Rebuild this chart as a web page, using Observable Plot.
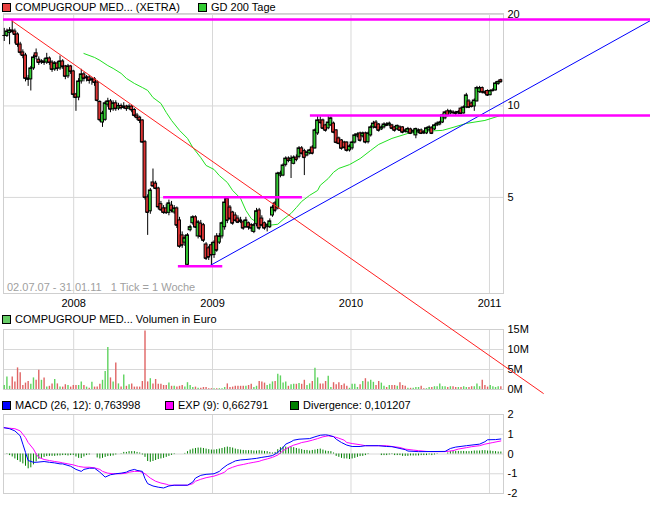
<!DOCTYPE html>
<html><head><meta charset="utf-8">
<script src="https://cdn.jsdelivr.net/npm/d3@7"></script>
<script src="https://cdn.jsdelivr.net/npm/@observablehq/plot@0.6"></script>
<style>
body{margin:0;background:#fff;}
#chart{position:relative;width:650px;height:505px;overflow:hidden;font-family:"Liberation Sans",Arial,sans-serif;font-size:11px;color:#000;background:#fff}
.pane{position:absolute;left:0}
.leg{position:absolute;white-space:nowrap;font-size:11px;line-height:12px}
.sw{display:inline-block;width:7px;height:7px;border:1px solid #000;margin-right:4px;vertical-align:-1px}
.cap{position:absolute;left:7px;top:281px;color:#a0a0a0;font-size:11px;white-space:pre}
</style></head>
<body><div id="chart"></div>
<script>
// ---- data: weekly candles starting 02.07.07 (1 Tick = 1 Woche) ----
const startWeek = "2007-07-02";
const opens = [
17.06,17.0,17.4,17.72,17.58,17.19,15.93,15.00,14.66,12.32,
12.23,13.29,14.90,14.20,13.90,14.01,13.90,14.33,13.90,13.19,
13.80,13.29,14.01,13.49,12.51,13.49,12.99,10.91,10.66,12.04,
12.70,12.32,12.41,12.13,12.23,11.95,10.30,8.82,9.00,10.10,
10.35,9.75,10.20,9.80,10.00,9.85,9.95,9.80,9.95,9.70,
9.30,9.15,8.96,7.60,5.00,4.50,5.60,5.55,5.35,4.75,
4.60,4.60,4.45,4.70,4.46,4.60,4.20,3.75,3.55,3.00,
3.90,4.11,4.30,3.72,4.10,4.05,3.50,3.40,3.48,3.23,
3.72,3.55,3.72,3.99,4.95,4.63,4.46,4.36,4.26,4.20,
4.14,3.99,4.11,4.05,3.85,4.08,4.53,4.26,4.11,3.99,
3.99,4.36,4.78,4.60,5.90,5.90,6.40,6.71,6.60,6.45,
6.76,6.80,7.25,7.10,6.87,6.98,7.30,7.25,8.12,8.96,
8.96,8.63,8.44,8.63,8.75,8.31,7.82,7.70,7.58,7.58,
7.14,7.25,7.58,7.94,8.12,7.94,8.12,7.60,8.00,8.50,
8.82,8.69,8.37,8.50,8.69,8.63,8.63,8.50,8.37,8.50,
8.50,8.31,8.19,8.37,8.19,8.00,8.19,8.31,8.19,8.12,
8.31,8.44,8.37,8.63,8.69,8.82,9.10,9.60,9.45,9.52,
9.50,9.45,9.80,9.45,9.89,10.35,10.19,9.96,10.35,11.10,
11.45,11.10,11.20,10.85,11.20,11.25,11.80,12.15];
const highs = [
18.0,17.9,18.1,19.1,17.9,17.4,16.2,15.3,14.9,12.6,
13.5,14.7,15.4,14.5,14.2,14.3,14.9,14.5,14.1,14.0,
14.0,14.6,14.2,13.6,13.7,13.6,13.1,11.0,12.3,13.2,
12.9,12.6,12.6,12.4,12.4,12.1,10.4,9.6,10.35,10.6,
10.5,10.4,10.4,10.2,10.15,10.25,10.05,10.1,10.05,9.8,
9.45,9.25,9.0,7.7,5.1,5.35,6.2,5.65,5.4,4.85,
4.7,4.75,4.9,4.85,4.7,4.65,4.3,3.85,3.75,3.8,
4.05,4.35,4.35,4.2,4.2,4.1,3.55,3.45,3.55,3.6,
3.8,3.8,4.15,5.0,5.0,4.7,4.5,4.45,4.35,4.3,
4.2,4.3,4.15,4.1,4.1,4.6,4.6,4.35,4.15,4.1,
4.25,4.7,4.85,6.05,6.1,6.45,6.8,6.8,6.85,6.85,
6.9,7.35,7.35,7.2,7.1,7.2,7.4,8.4,9.3,9.2,
9.05,8.7,9.3,9.2,8.85,8.35,7.9,7.75,7.65,7.62,
7.45,7.65,8.1,8.15,8.2,8.2,8.2,8.2,8.6,8.9,
8.95,8.75,8.6,8.8,8.8,8.85,8.7,8.55,8.65,8.6,
8.55,8.4,8.5,8.45,8.35,8.45,8.4,8.4,8.3,8.5,
8.6,8.55,8.7,8.85,8.9,9.4,9.6,9.75,9.7,9.65,
9.6,9.65,9.9,10.0,11.0,10.5,10.3,10.55,11.6,11.6,
11.55,11.2,11.3,11.3,11.4,12.0,12.1,12.25];
const lows = [
16.3,16.8,15.9,17.3,16.0,15.6,14.7,14.3,12.0,11.6,
11.2,13.1,14.2,13.6,13.7,13.6,13.7,13.6,12.9,13.0,
13.0,13.1,13.2,12.2,12.3,12.7,10.6,9.6,10.4,11.8,
12.0,12.0,11.8,11.7,11.6,10.3,8.85,8.5,8.9,9.9,
9.5,9.6,9.6,9.65,9.7,9.75,9.6,9.7,9.5,9.15,
8.95,8.75,7.55,4.9,3.75,4.4,5.4,5.3,4.55,4.5,
4.4,4.4,4.35,4.45,4.4,3.95,3.4,3.4,3.45,2.97,
3.85,4.05,3.95,3.65,3.65,3.55,3.1,3.1,2.98,3.15,
3.3,3.5,3.65,3.9,4.1,4.2,4.05,4.15,4.1,4.1,
3.9,3.95,3.9,3.85,3.8,4.0,3.9,4.0,3.9,3.85,
3.95,4.3,4.45,4.55,5.8,5.85,6.3,6.5,5.77,6.4,
6.55,6.7,6.9,5.9,6.8,6.9,6.9,7.2,8.0,8.7,
8.35,8.2,8.35,8.55,8.1,7.5,7.45,7.15,7.2,7.05,
7.05,7.15,7.5,7.85,7.6,7.85,7.5,7.5,7.9,8.4,
8.4,8.2,8.3,8.4,8.55,8.55,8.35,8.2,8.3,8.25,
8.1,8.15,8.1,8.05,8.1,7.8,8.1,8.05,8.05,8.05,
8.25,8.05,8.3,8.55,8.6,8.75,9.0,9.2,9.35,9.35,
9.3,9.35,9.35,9.4,9.8,9.8,9.85,9.6,10.3,11.0,
10.95,10.9,10.75,10.8,11.1,11.2,11.7,11.9];
const closes = [
17.06,17.58,17.72,17.58,17.19,15.93,15.00,14.66,12.32,12.23,
13.29,14.44,14.55,13.90,14.01,13.90,14.33,13.90,13.19,13.80,
13.29,14.01,13.49,12.51,13.49,12.99,10.91,10.66,12.04,12.70,
12.32,12.41,12.13,12.23,11.95,10.42,9.00,9.45,10.20,10.35,
9.75,10.20,9.80,10.00,9.85,9.95,9.80,9.95,9.70,9.30,
9.15,8.96,7.60,5.00,4.46,5.27,5.45,5.35,4.65,4.55,
4.46,4.45,4.78,4.53,4.60,4.05,3.45,3.48,3.67,3.75,
3.99,4.30,3.99,4.14,3.72,3.61,3.15,3.18,3.23,3.55,
3.35,3.72,4.11,4.81,4.20,4.26,4.11,4.20,4.14,4.17,
3.96,4.20,3.99,3.96,4.05,4.50,3.96,4.05,3.96,4.05,
4.17,4.63,4.53,5.99,6.00,6.37,6.71,6.61,6.71,6.76,
6.66,7.25,6.98,6.76,7.03,7.14,6.98,8.31,8.96,8.82,
8.44,8.31,8.82,9.10,8.19,7.58,7.52,7.25,7.30,7.14,
7.36,7.58,8.00,8.06,7.70,8.12,7.60,8.12,8.50,8.75,
8.50,8.31,8.50,8.69,8.63,8.75,8.44,8.31,8.60,8.31,
8.19,8.25,8.40,8.12,8.28,8.40,8.31,8.12,8.15,8.44,
8.50,8.12,8.63,8.75,8.82,9.31,9.52,9.31,9.60,9.50,
9.45,9.55,9.45,9.89,10.83,9.90,9.96,10.42,11.45,11.45,
11.10,11.05,10.85,11.20,11.25,11.86,12.00,12.00];
// volume in million euro per week
const volumes = [
1.0,3.1,0.8,3.1,1.9,5.4,4.2,1.0,1.6,2.0,
1.3,2.9,2.3,4.8,2.3,2.9,0.6,0.8,1.4,2.5,
1.4,0.6,0.6,1.2,1.0,0.6,1.0,1.0,1.0,1.9,
1.0,0.6,0.3,1.8,0.6,0.6,1.3,2.3,4.5,10.5,
2.9,1.9,6.6,1.4,0.6,3.6,0.8,1.2,1.4,0.6,
0.6,0.6,2.0,14.6,1.9,2.7,1.4,2.5,1.3,1.3,
1.0,1.0,1.6,0.8,0.8,0.6,0.8,1.0,0.6,1.7,
1.0,0.5,0.6,0.3,0.3,0.5,0.5,0.2,0.2,0.2,
0.2,0.2,0.2,0.5,1.4,0.5,0.6,0.8,0.8,0.8,
0.8,0.8,1.0,1.3,0.5,0.8,2.0,1.9,1.6,1.0,
1.3,1.9,2.0,3.8,3.4,1.6,1.9,0.8,1.2,1.3,
1.3,1.5,1.3,2.3,1.0,1.4,2.0,5.3,2.9,1.4,
1.4,2.0,3.3,0.5,1.7,1.2,1.7,1.0,1.4,0.8,
0.3,1.3,1.3,0.5,1.2,2.0,2.7,1.9,2.3,1.8,
1.0,2.0,1.6,0.8,0.5,1.0,1.0,1.0,0.8,1.7,
1.0,0.8,0.3,0.3,0.3,0.5,0.5,0.8,0.2,0.2,
0.5,0.5,0.7,0.7,1.4,0.7,0.7,0.5,0.7,0.7,
0.5,0.5,0.5,0.7,0.5,0.5,0.7,0.7,1.4,0.7,
2.3,1.0,0.6,1.0,0.7,0.5,0.7,0.7];
// GD 200 Tage (week index, value)
const gdWeeks = [30,34,36,39,41,44,46,49,52,54,56,59,61,63,66,69,71,74,76,79,81,84,86,89,91,93,95,97,100,103,105,108,110,112,115,118,119,122,124,126,130,134,138,141,146,152,158,165,169,174,181,187];
const gdValues = [14.88,14.44,14.13,13.58,13.29,12.8,12.32,11.86,11.5,11.25,10.66,10.19,9.52,8.96,8.31,7.82,7.3,6.76,6.37,6.18,5.9,5.6,5.27,4.96,4.53,4.26,4.14,4.11,4.05,4.08,4.23,4.43,4.63,4.85,5.08,5.27,5.48,5.77,6.05,6.23,6.41,6.71,7.14,7.47,7.82,8.12,8.25,8.31,8.50,8.76,8.96,9.31];
// MACD (26,12)
const macdWeeks = [0,2,4,6,7,8,9,11,12,15,17,19,21,22,24,25,27,29,30,32,34,36,38,40,42,44,46,47,49,50,52,53,54,56,58,60,62,64,69,71,72,74,76,79,81,82,84,86,87,89,91,93,95,97,99,101,103,105,106,108,109,111,115,117,119,121,122,124,125,127,129,131,134,136,141,144,146,149,151,152,156,166,168,170,174,179,181,182,185,187];
const macdValues = [1.33,1.28,1.17,0.92,0.5,0.08,-0.33,-0.42,-0.42,-0.38,-0.42,-0.45,-0.5,-0.5,-0.58,-0.62,-0.78,-0.88,-0.78,-0.72,-0.72,-0.92,-1.17,-1.05,-1.0,-0.97,-0.92,-0.85,-0.78,-0.83,-0.88,-1.25,-1.5,-1.62,-1.68,-1.72,-1.62,-1.58,-1.58,-1.42,-1.22,-1.08,-1.03,-1.0,-0.88,-0.75,-0.55,-0.42,-0.35,-0.3,-0.28,-0.25,-0.22,-0.17,-0.13,-0.08,0.08,0.33,0.5,0.62,0.7,0.75,0.78,0.87,0.95,0.97,0.95,0.88,0.75,0.58,0.45,0.38,0.38,0.42,0.42,0.38,0.37,0.28,0.22,0.15,0.12,0.13,0.28,0.35,0.42,0.5,0.62,0.72,0.73,0.76];
// EXP (9)
const expWeeks = [0,4,6,7,8,9,11,12,13,15,17,19,21,22,24,26,28,30,32,34,36,37,39,41,44,46,47,49,51,53,55,57,59,61,62,69,71,72,74,76,79,81,83,84,86,88,90,92,94,96,97,99,101,103,105,107,109,111,112,114,116,118,120,122,124,126,128,129,131,134,136,144,146,149,151,154,156,159,161,166,169,171,174,176,179,181,184,187];
const expValues = [1.33,1.28,1.17,1.0,0.83,0.58,0.25,0.0,-0.17,-0.28,-0.33,-0.38,-0.42,-0.45,-0.5,-0.55,-0.63,-0.67,-0.67,-0.7,-0.78,-0.88,-0.97,-1.0,-1.0,-0.97,-0.92,-0.88,-0.88,-1.0,-1.22,-1.38,-1.47,-1.53,-1.58,-1.58,-1.5,-1.38,-1.28,-1.2,-1.12,-1.03,-0.92,-0.78,-0.67,-0.58,-0.53,-0.47,-0.42,-0.37,-0.32,-0.25,-0.17,-0.05,0.17,0.33,0.45,0.53,0.58,0.63,0.7,0.78,0.87,0.92,0.88,0.8,0.7,0.58,0.53,0.47,0.42,0.42,0.38,0.33,0.25,0.2,0.17,0.13,0.12,0.12,0.17,0.25,0.32,0.37,0.42,0.5,0.58,0.66];
// Divergence per week
const divergence = [
0,-0.02,-0.08,-0.15,-0.25,-0.33,-0.42,-0.5,-0.62,-0.75,
-0.7,-0.55,-0.4,-0.27,-0.22,-0.17,-0.13,-0.12,-0.12,-0.12,
-0.1,-0.1,-0.08,-0.08,-0.1,-0.08,-0.07,-0.15,-0.22,-0.23,
-0.15,-0.08,-0.05,0,0,-0.2,-0.25,-0.22,-0.17,-0.13,
-0.12,-0.1,-0.05,0,0.02,0.08,0.08,0.12,0.12,0.12,
0.08,0.05,-0.05,-0.17,-0.38,-0.42,-0.38,-0.33,-0.28,-0.25,
-0.22,-0.17,-0.12,-0.07,-0.03,0,0,0,0.03,0.12,
0.2,0.25,0.28,0.3,0.3,0.28,0.25,0.22,0.2,0.2,
0.22,0.25,0.28,0.32,0.35,0.33,0.3,0.25,0.22,0.2,
0.18,0.17,0.17,0.17,0.15,0.15,0.17,0.15,0.13,0.12,
0.08,0.05,0.08,0.22,0.32,0.35,0.35,0.32,0.35,0.32,
0.28,0.25,0.22,0.18,0.18,0.15,0.18,0.2,0.23,0.25,
0.2,0.15,0.13,0.12,0.05,-0.12,-0.17,-0.22,-0.25,-0.25,
-0.28,-0.25,-0.22,-0.17,-0.13,-0.12,-0.08,-0.03,0,0,
0,0,-0.08,-0.08,-0.08,-0.05,-0.03,-0.08,-0.08,-0.08,
-0.12,-0.12,-0.12,-0.1,-0.1,-0.1,-0.1,-0.08,-0.08,-0.08,
-0.05,-0.08,-0.05,-0.02,0,0,0,0.05,0.12,0.13,
0.13,0.13,0.13,0.13,0.12,0.12,0.13,0.15,0.15,0.15,
0.17,0.17,0.15,0.15,0.13,0.12,0.1,0.1];
// trend lines and horizontal levels (date, value)
const redTrend = [["2007-07-21", 19.1], ["2011-05-23", 1.132]];
const blueTrend = [["2008-12-27", 2.99], ["2012-03-01", 19.12]];
const levelFrom = ["2007-06-30", "2009-09-16", "2008-08-25", "2008-10-03"];
const levelTo   = ["2012-03-01", "2012-03-01", "2009-08-26", "2009-01-28"];
const levelValue = [19.26, 9.31, 5.01, 2.97];
const yearTicks = ["2008-01-01", "2009-01-01", "2010-01-01", "2011-01-01"];
const priceTicks = [5, 10, 20];
const volumeTicks = [0, 5, 10, 15];
const macdTicks = [-2, -1, 0, 1, 2];

// ---- build ----
const D = s => new Date(s + "T00:00:00Z");
const WEEK = 7 * 864e5;
const t0 = +D(startWeek);
const wk = i => new Date(t0 + i * WEEK);
const candles = closes.map((c, i) => ({date: wk(i), open: opens[i], high: highs[i], low: lows[i], close: c, vol: volumes[i], div: divergence[i]}));
const gd = gdWeeks.map((w, i) => ({date: wk(w), v: gdValues[i]}));
const macd = macdWeeks.map((w, i) => ({date: wk(w), v: macdValues[i]}));
const expv = expWeeks.map((w, i) => ({date: wk(w), v: expValues[i]}));
const levels = levelValue.map((v, i) => ({x1: D(levelFrom[i]), x2: D(levelTo[i]), v}));
const red = redTrend.map(([d, v]) => ({date: D(d), v}));
const blue = blueTrend.map(([d, v]) => ({date: D(d), v}));
const years = yearTicks.map(D);
const xDomain = [D("2007-06-30"), D("2011-02-07")];
const half = 0.55 * WEEK;
const up = d => d.close >= d.open;
const GRID = "#d8d8d8";
const baseStyle = {overflow: "visible", background: "transparent", fontFamily: "'Liberation Sans', Arial, sans-serif", fontSize: "11px", color: "#000"};

const price = Plot.plot({
  width: 650, height: 312, marginLeft: 3, marginRight: 147, marginTop: 13, marginBottom: 19,
  style: baseStyle,
  x: {type: "utc", domain: xDomain, ticks: years, tickFormat: d3.utcFormat("%Y"), tickSize: 0, tickPadding: 6, label: null},
  y: {type: "log", domain: [2.414, 20.15], ticks: priceTicks, tickFormat: d => String(d), axis: "right", tickSize: 0, tickPadding: 4, label: null},
  marks: [
    Plot.ruleX(years, {stroke: GRID}),
    Plot.ruleY(priceTicks, {stroke: GRID}),
    Plot.frame({stroke: "#cfcfcf"}),
    Plot.line(gd, {x: "date", y: "v", stroke: "#22e022", strokeWidth: 1}),
    Plot.ruleX(candles, {x: "date", y1: "low", y2: "high", stroke: "#000", strokeWidth: 1}),
    Plot.rect(candles, {x1: d => new Date(+d.date - half), x2: d => new Date(+d.date + half), y1: "open", y2: "close", fill: d => up(d) ? "#33cc33" : "#dd3333", stroke: "#000", strokeWidth: 1}),
    Plot.ruleY(candles, {y: "close", x1: d => new Date(+d.date - half), x2: d => new Date(+d.date + half), stroke: "#000", strokeWidth: 1}),
    Plot.line(red, {x: "date", y: "v", stroke: "#ff2020", strokeWidth: 1}),
    Plot.line(blue, {x: "date", y: "v", stroke: "#0000ff", strokeWidth: 1}),
    Plot.ruleY(levels, {y: "v", x1: "x1", x2: "x2", stroke: "#ff00ff", strokeWidth: 2.5})
  ]
});

const volume = Plot.plot({
  width: 650, height: 90, marginLeft: 3, marginRight: 147, marginTop: 19, marginBottom: 11,
  style: baseStyle,
  x: {type: "utc", domain: xDomain, axis: null},
  y: {domain: [0, 15], ticks: volumeTicks, tickFormat: d => d + "M", axis: "right", tickSize: 0, tickPadding: 4, label: null},
  marks: [
    Plot.ruleX(years, {stroke: GRID}),
    Plot.ruleY([5, 10], {stroke: GRID}),
    Plot.frame({stroke: "#cfcfcf"}),
    Plot.ruleX(candles, {x: "date", y1: 0, y2: "vol", stroke: d => up(d) ? "#5fd35f" : "#e06464", strokeWidth: 1.4})
  ]
});

const macdPlot = Plot.plot({
  width: 650, height: 105, marginLeft: 3, marginRight: 147, marginTop: 14, marginBottom: 12,
  style: baseStyle,
  x: {type: "utc", domain: xDomain, axis: null},
  y: {domain: [-2, 2], ticks: macdTicks, tickFormat: d => String(d), axis: "right", tickSize: 0, tickPadding: 4, label: null},
  marks: [
    Plot.ruleX(years, {stroke: GRID}),
    Plot.ruleY([-1, 0, 1], {stroke: GRID}),
    Plot.frame({stroke: "#cfcfcf"}),
    Plot.ruleX(candles, {x: "date", y1: 0, y2: "div", stroke: "#008000", strokeWidth: 1}),
    Plot.line(expv, {x: "date", y: "v", stroke: "#ff00ff", strokeWidth: 1}),
    Plot.line(macd, {x: "date", y: "v", stroke: "#0000ff", strokeWidth: 1})
  ]
});

const chart = document.getElementById("chart");
function place(node, top, z) {
  const d = document.createElement("div");
  d.className = "pane"; d.style.top = top + "px"; d.style.zIndex = z;
  d.appendChild(node); chart.appendChild(d);
}
place(volume, 310, 1);
place(macdPlot, 400, 1);
place(price, 0, 3);

function legend(left, top, color, text) {
  const d = document.createElement("div");
  d.className = "leg"; d.style.left = left + "px"; d.style.top = top + "px"; d.style.zIndex = 4;
  const s = document.createElement("span"); s.className = "sw"; s.style.background = color;
  d.appendChild(s); d.appendChild(document.createTextNode(text));
  chart.appendChild(d);
}
legend(2, 1, "#e84040", "COMPUGROUP MED... (XETRA)");
legend(198, 1, "#33cc33", "GD 200 Tage");
legend(2, 313, "#66cc66", "COMPUGROUP MED... Volumen in Euro");
legend(2, 399, "#0000ff", "MACD (26, 12): 0,763998");
legend(165, 399, "#ff00ff", "EXP (9): 0,662791");
legend(290, 399, "#008000", "Divergence: 0,101207");
const cap = document.createElement("div");
cap.className = "cap"; cap.style.zIndex = 2;
cap.textContent = "02.07.07 - 31.01.11   1 Tick = 1 Woche";
chart.appendChild(cap);
</script>
</body></html>
